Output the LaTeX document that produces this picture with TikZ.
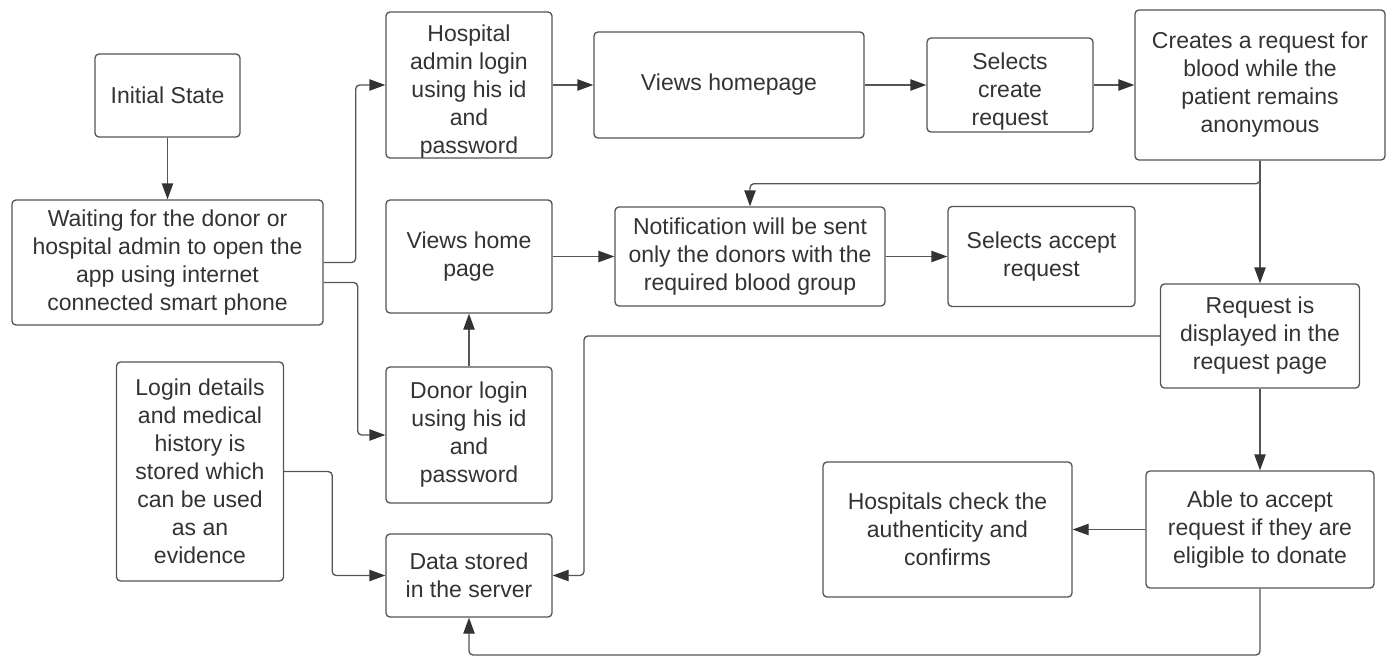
\documentclass[tikz,border=0pt]{standalone}
\usepackage{fontspec}
\setmainfont{Liberation Sans}
\usetikzlibrary{arrows.meta}
\definecolor{linec}{RGB}{85,85,85}
\definecolor{tipc}{RGB}{51,51,51}
\definecolor{txtc}{RGB}{51,51,51}
\begin{document}
\begin{tikzpicture}[x=0.75pt,y=-0.75pt,
  txt/.style={align=center, inner sep=2pt, text=txtc, font=\fontsize{17.25}{21}\selectfont},
  bx/.style={draw=linec, line width=1pt, rounded corners=3pt, txt},
  arr/.style={draw=linec, line width=1pt, rounded corners=3pt,
    -{Triangle[length=12pt,width=8.5pt,color=tipc]}}]
\useasboundingbox (0,0) rectangle (1391,657);

\node[bx, minimum width=108.75pt, minimum height=62.25pt] (is) at (167.5,95.5) {Initial State};
\node[bx, minimum width=233.25pt, minimum height=93.75pt] (wt) at (167.5,262.5)
  {Waiting for the donor or\\hospital admin to open the\\app using internet\\connected smart phone};
\node[bx, minimum width=124.5pt, minimum height=109.5pt,
  label={[txt, yshift=-5pt]center:{Hospital\\admin login\\using his id\\and\\password}}] (ha) at (469,85) {};
\node[bx, minimum width=202.5pt, minimum height=79.5pt] (vh) at (729,85) {Views homepage};
\node[bx, minimum width=124.5pt, minimum height=70.5pt,
  label={[txt, yshift=-5pt]center:{Selects\\create\\request}}] (sc) at (1010,85) {};
\node[bx, minimum width=187.5pt, minimum height=112.5pt] (cr) at (1260,85)
  {Creates a request for\\blood while the\\patient remains\\anonymous};
\node[bx, minimum width=124.5pt, minimum height=84.75pt] (vp) at (469,256.5) {Views home\\page};
\node[bx, minimum width=202.5pt, minimum height=74.25pt] (nt) at (750,256.5)
  {Notification will be sent\\only the donors with the\\required blood group};
\node[bx, minimum width=140.25pt, minimum height=75pt] (sa) at (1041.5,256.5) {Selects accept\\request};
\node[bx, minimum width=149.25pt, minimum height=78pt] (rd) at (1260,336)
  {Request is\\displayed in the\\request page};
\node[bx, minimum width=125.25pt, minimum height=164.25pt] (ld) at (200,471.5)
  {Login details\\and medical\\history is\\stored which\\can be used\\as an\\evidence};
\node[bx, minimum width=124.5pt, minimum height=102pt] (dl) at (469,435)
  {Donor login\\using his id\\and\\password};
\node[bx, minimum width=124.5pt, minimum height=62.25pt] (ds) at (469,575.5) {Data stored\\in the server};
\node[bx, minimum width=186.75pt, minimum height=101.25pt] (hc) at (947.5,529.5)
  {Hospitals check the\\authenticity and\\confirms};
\node[bx, minimum width=171pt, minimum height=87.75pt] (ab) at (1260,529.5)
  {Able to accept\\request if they are\\eligible to donate};

\coordinate (k1) at (584,575.5);
\coordinate (k2) at (1260,655);

\draw[arr] (is) -- (wt);
\draw[arr] (wt.east) -- ++(32,0) |- (ha.west);
\draw[arr] ([yshift=-15pt]wt.east) -- ++(34,0) |- (dl.west);
\draw[arr] (ha) -- (vh);
\draw[arr] (vh) -- (sc);
\draw[arr] (sc) -- (cr);
\draw[arr] (cr) -- (rd);
\draw[arr] (cr.south) -- ++(0,23) -| (nt.north);
\draw[arr] (vp) -- (nt);
\draw[arr] (nt) -- (sa);
\draw[arr] (dl) -- (vp);
\draw[arr] (rd.west) -| (k1) -- (ds.east);
\draw[arr] (rd) -- (ab);
\draw[arr] (ab) -- (hc);
\draw[arr] (ab.south) -- (k2) -| (ds.south);
\draw[arr] (ld.east) -- ++(48,0) |- (ds.west);
\end{tikzpicture}
\end{document}
